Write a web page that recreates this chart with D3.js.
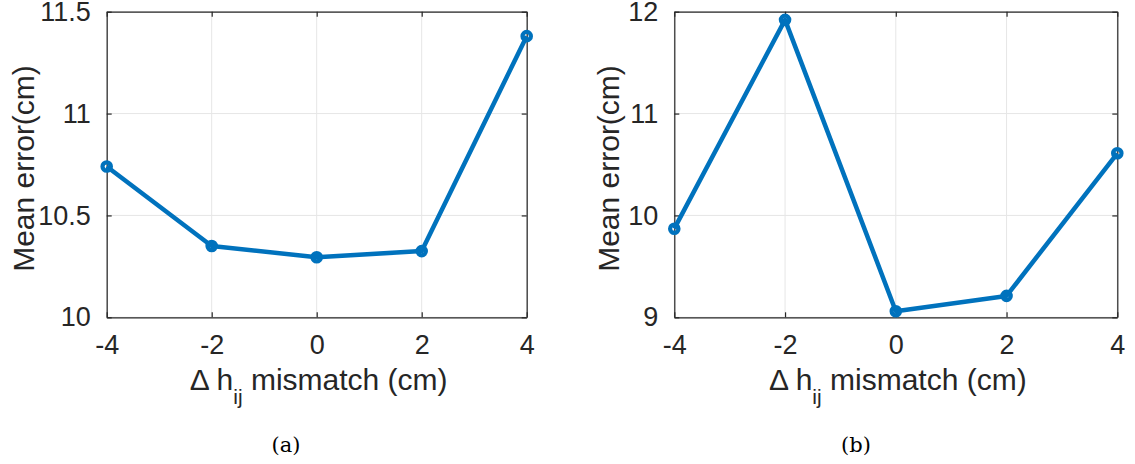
<!DOCTYPE html>
<html>
<head>
<meta charset="utf-8">
<script src="https://cdn.jsdelivr.net/npm/d3@7"></script>
<style>
  html, body { margin: 0; padding: 0; background: #fff; }
  svg { display: block; }
</style>
</head>
<body>
<svg id="chart" width="1135" height="464"></svg>
<script>
// ---- data ----
const mismatch = [-4, -2, 0, 2, 4];
const errorA = [10.74, 10.35, 10.295, 10.325, 11.38];
const errorB = [9.87, 11.92, 9.06, 9.21, 10.61];
const xTicks = [-4, -2, 0, 2, 4];
const xTickLabels = ["-4", "-2", "0", "2", "4"];
const yTicksA = [10, 10.5, 11, 11.5];
const yTicksB = [9, 10, 11, 12];
const captions = ["(a)", "(b)"];

const svg = d3.select("#chart");
const textColor = "#262626";
const lineColor = "#0072BD";

const panels = [
  { values: errorA, yDomain: [10, 11.5], yTicks: yTicksA, left: 106.7, right: 526.7, caption: captions[0], capX: 286, ylabOff: 73 },
  { values: errorB, yDomain: [9, 12], yTicks: yTicksB, left: 674.3, right: 1117.3, caption: captions[1], capX: 856, ylabOff: 55 }
];
const plotTop = 11.7, plotBottom = 317.3;

panels.forEach(p => {
  const x = d3.scaleLinear().domain([-4, 4]).range([p.left, p.right]);
  const y = d3.scaleLinear().domain(p.yDomain).range([plotBottom, plotTop]);
  const g = svg.append("g");

  // grid
  g.append("g").selectAll("line").data(xTicks).join("line")
    .attr("x1", d => x(d)).attr("x2", d => x(d))
    .attr("y1", plotTop).attr("y2", plotBottom)
    .attr("stroke", "#e6e6e6").attr("stroke-width", 1);
  g.append("g").selectAll("line").data(p.yTicks).join("line")
    .attr("y1", d => y(d)).attr("y2", d => y(d))
    .attr("x1", p.left).attr("x2", p.right)
    .attr("stroke", "#e6e6e6").attr("stroke-width", 1);

  // axes with inward ticks (bottom/left labelled, top/right unlabelled)
  const xAxisB = d3.axisBottom(x).tickValues(xTicks).tickSizeInner(-5).tickSizeOuter(0).tickPadding(18)
    .tickFormat((d, i) => xTickLabels[i]);
  const xAxisT = d3.axisTop(x).tickValues(xTicks).tickSizeInner(-5).tickSizeOuter(0).tickFormat("");
  const yAxisL = d3.axisLeft(y).tickValues(p.yTicks).tickSizeInner(-5).tickSizeOuter(0).tickPadding(16).tickFormat(d => String(d));
  const yAxisR = d3.axisRight(y).tickValues(p.yTicks).tickSizeInner(-5).tickSizeOuter(0).tickFormat("");

  const styleAxis = sel => {
    sel.selectAll("path").attr("stroke", textColor).attr("stroke-width", 1.2);
    sel.selectAll("line").attr("stroke", textColor).attr("stroke-width", 1.2);
    sel.selectAll("text").attr("fill", textColor)
      .style("font-family", "'Liberation Sans', Arial, Helvetica, sans-serif")
      .style("font-size", "27px");
  };
  g.append("g").attr("transform", `translate(0,${plotBottom})`).call(xAxisB).call(styleAxis);
  g.append("g").attr("transform", `translate(0,${plotTop})`).call(xAxisT).call(styleAxis);
  g.append("g").attr("transform", `translate(${p.left},0)`).call(yAxisL).call(styleAxis);
  g.append("g").attr("transform", `translate(${p.right},0)`).call(yAxisR).call(styleAxis);

  // line
  const line = d3.line().x((d, i) => x(mismatch[i])).y(d => y(d));
  g.append("path").datum(p.values)
    .attr("d", line).attr("fill", "none")
    .attr("stroke", lineColor).attr("stroke-width", 4.5)
    .attr("stroke-linejoin", "round");
  g.append("g").selectAll("circle").data(p.values).join("circle")
    .attr("cx", (d, i) => x(mismatch[i])).attr("cy", d => y(d))
    .attr("r", 4.2).attr("fill", "none")
    .attr("stroke", lineColor).attr("stroke-width", 4.2);

  // y label
  const cy = (plotTop + plotBottom) / 2;
  g.append("text")
    .attr("transform", `translate(${p.left - p.ylabOff},${cy + 4}) rotate(-90)`)
    .attr("text-anchor", "middle")
    .attr("fill", textColor)
    .style("font-family", "'Liberation Sans', Arial, Helvetica, sans-serif")
    .style("font-size", "30px")
    .text("Mean error(cm)");

  // x label
  const xl = g.append("text")
    .attr("x", (p.left + p.right) / 2 + 2).attr("y", 390)
    .attr("text-anchor", "middle")
    .attr("fill", textColor)
    .style("font-family", "'Liberation Sans', Arial, Helvetica, sans-serif")
    .style("font-size", "30px");
  xl.append("tspan").text("\u0394 h");
  xl.append("tspan").attr("dy", 14).style("font-size", "21px").text("ij");
  xl.append("tspan").attr("dy", -14).text(" mismatch (cm)");

  // caption
  g.append("text")
    .attr("x", p.capX).attr("y", 452)
    .attr("text-anchor", "middle")
    .attr("fill", "#000")
    .style("font-family", "'DejaVu Serif', 'Liberation Serif', serif")
    .style("font-size", "21px")
    .text(p.caption);
});
</script>
</body>
</html>
